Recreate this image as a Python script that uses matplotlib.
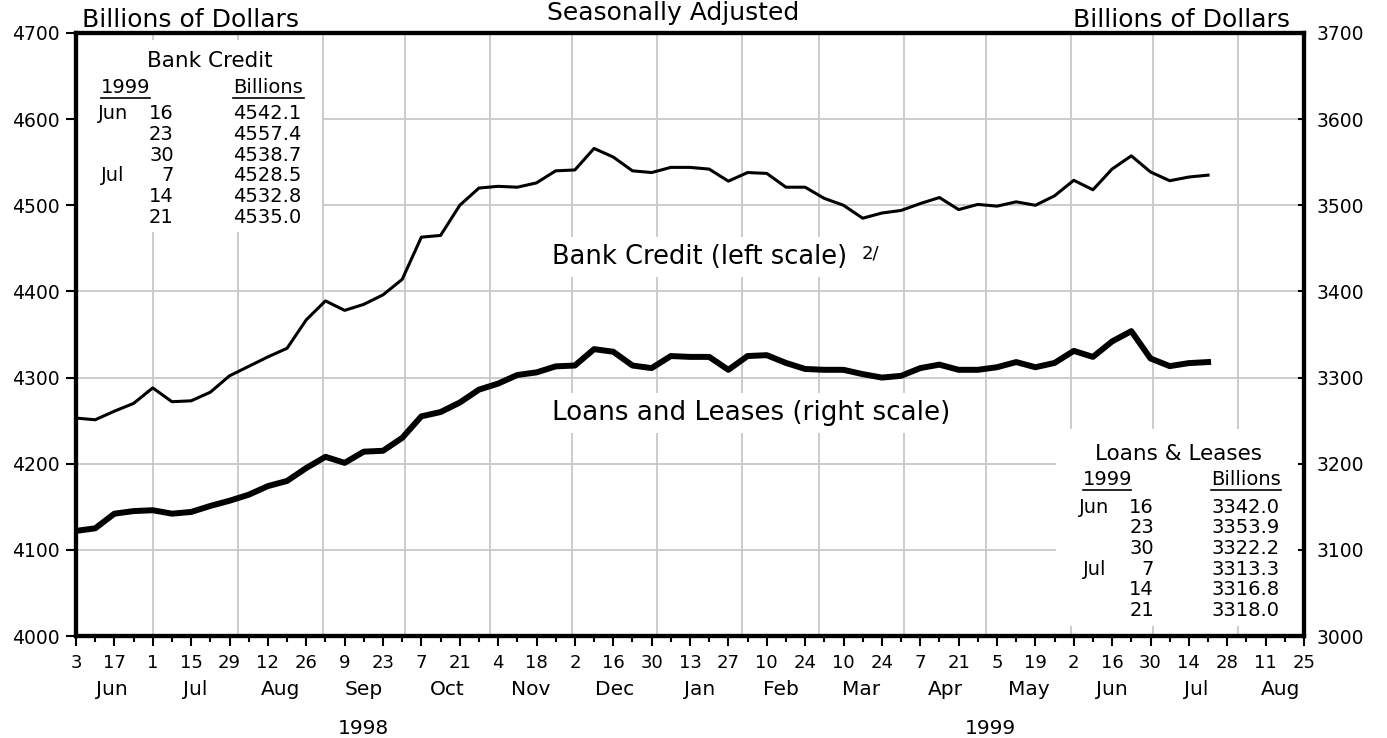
import matplotlib
matplotlib.use("Agg")
import matplotlib.pyplot as plt
import matplotlib.dates as mdates
import numpy as np
import pandas as pd
from matplotlib.patches import Rectangle

# weekly observations, Jun 3 1998 .. Jul 21 1999
week_dates = pd.date_range("1998-06-03", "1999-07-21", freq="7D")

bank_credit = [4253, 4251, 4261, 4270, 4288, 4272, 4273, 4283, 4302, 4313,
               4324, 4334, 4367, 4389, 4378, 4385, 4396, 4414, 4463, 4465,
               4500, 4520, 4522, 4521, 4526, 4540, 4541, 4566, 4556, 4540,
               4538, 4544, 4544, 4542, 4528, 4538, 4537, 4521, 4521, 4508,
               4500, 4485, 4491, 4494, 4502, 4509, 4495, 4501, 4499, 4504,
               4500, 4511, 4529, 4518, 4542.1, 4557.4, 4538.7, 4528.5, 4532.8, 4535.0]

loans_leases = [3122, 3125, 3142, 3145, 3146, 3142, 3144, 3151, 3157, 3164,
                3174, 3180, 3195, 3208, 3201, 3214, 3215, 3230, 3255, 3260,
                3271, 3286, 3293, 3303, 3306, 3313, 3314, 3333, 3330, 3314,
                3311, 3325, 3324, 3324, 3309, 3325, 3326, 3317, 3310, 3309,
                3309, 3304, 3300, 3302, 3311, 3315, 3309, 3309, 3312, 3318,
                3312, 3317, 3331, 3324, 3342.0, 3353.9, 3322.2, 3313.3, 3316.8, 3318.0]

month_names = ["Jun", "Jul", "Aug", "Sep", "Oct", "Nov", "Dec",
               "Jan", "Feb", "Mar", "Apr", "May", "Jun", "Jul", "Aug"]
year_labels = ["1998", "1999"]
table_months = ["Jun", "", "", "Jul", "", ""]
table_days = ["16", "23", "30", "7", "14", "21"]

plt.rcParams["font.family"] = "DejaVu Sans"

fig = plt.figure(figsize=(13.87, 7.38), dpi=100)
ax = fig.add_axes([76 / 1387, 1 - 636 / 738, 1228 / 1387, 603 / 738])
ax2 = ax.twinx()

x_start = mdates.date2num(pd.Timestamp("1998-06-03"))
x_end = mdates.date2num(pd.Timestamp("1999-08-25"))
dates = mdates.date2num(week_dates)

# grid: month starts and every 100 on the left scale
month_starts = pd.date_range("1998-06-01", periods=len(month_names) + 1, freq="MS")
for d in month_starts:
    dn = mdates.date2num(d)
    if x_start < dn < x_end:
        ax.axvline(dn, color="#c8c8c8", lw=1.3, zorder=0.5)
for v in range(4100, 4700, 100):
    ax.axhline(v, color="#c8c8c8", lw=1.3, zorder=0.5)

# white boxes behind the tables
ax.add_patch(Rectangle((0, 0.67), 0.2, 0.318, transform=ax.transAxes,
                       facecolor="white", edgecolor="none", zorder=1))
ax.add_patch(Rectangle((0.798, 0.0166), 0.202, 0.327, transform=ax.transAxes,
                       facecolor="white", edgecolor="none", zorder=1))

ax.plot(dates, bank_credit, color="black", lw=2.2, zorder=3)
ax2.plot(dates, loans_leases, color="black", lw=4.3, zorder=3)

ax.set_xlim(x_start, x_end)
ax.set_ylim(4000, 4700)
ax2.set_ylim(3000, 3700)
ax.set_yticks(range(4000, 4701, 100))
ax2.set_yticks(range(3000, 3701, 100))

major = pd.date_range("1998-06-03", "1999-08-25", freq="14D")
minor = pd.date_range("1998-06-03", "1999-08-25", freq="7D")
ax.set_xticks(mdates.date2num(major))
ax.set_xticklabels([str(d.day) for d in major])
ax.set_xticks(mdates.date2num(minor), minor=True)

ax.tick_params(axis="x", which="major", direction="out", length=7, width=1.5,
               labelsize=13, pad=6)
ax.tick_params(axis="x", which="minor", direction="out", length=4.5, width=1.5)
ax.tick_params(axis="y", direction="out", length=7, width=1.5, labelsize=13.5, pad=5)
ax2.tick_params(axis="y", direction="in", length=4, width=1.5, labelsize=13.5, pad=9)

for a in (ax, ax2):
    for sp in a.spines.values():
        sp.set_linewidth(3)

# month and year labels under the axis
xt = ax.get_xaxis_transform()
for i, name in enumerate(month_names):
    mid = (mdates.date2num(month_starts[i]) + mdates.date2num(month_starts[i + 1])) / 2
    ax.text(mid, -0.088, name, transform=xt, ha="center", va="center", fontsize=14.5)
year_spans = [(pd.Timestamp("1998-06-01"), pd.Timestamp("1999-01-01")),
              (pd.Timestamp("1999-01-01"), pd.Timestamp("1999-09-01"))]
for label, (a0, a1) in zip(year_labels, year_spans):
    mid = (mdates.date2num(a0) + mdates.date2num(a1)) / 2
    ax.text(mid, -0.153, label, transform=xt, ha="center", va="center", fontsize=14.5)

# headers
fig.text(82 / 1387, 1 - 27 / 738, "Billions of Dollars", fontsize=18, va="baseline")
fig.text(1290 / 1387, 1 - 27 / 738, "Billions of Dollars", fontsize=18,
         va="baseline", ha="right")
fig.text(673 / 1387, 1 - 20 / 738, "Seasonally Adjusted", fontsize=18,
         va="baseline", ha="center")

# series labels
box = dict(facecolor="white", edgecolor="none", pad=5)
ax.text(0.3876, 0.617, "Bank Credit (left scale)", transform=ax.transAxes,
        fontsize=18.5, va="baseline", bbox=box, zorder=2)
ax.text(0.640, 0.6485, "2/", transform=ax.transAxes, fontsize=13, va="top", zorder=2)
ax.text(0.3876, 0.358, "Loans and Leases (right scale)", transform=ax.transAxes,
        fontsize=18.8, va="baseline", bbox=box, zorder=2)


def draw_table(title, title_x, title_y, year_x, bill_x, head_y, under_w,
               month_x, day_x, row_y, values):
    kw = dict(transform=ax.transAxes, zorder=4, va="baseline")
    ax.text(title_x, title_y, title, fontsize=15.5, ha="center", **kw)
    ax.text(year_x, head_y, "1999", fontsize=14, **kw)
    ax.text(bill_x, head_y, "Billions", fontsize=14, **kw)
    uy = head_y - 0.0085
    ax.plot([year_x, year_x + under_w[0]], [uy, uy], color="black", lw=1.2,
            transform=ax.transAxes, zorder=4)
    ax.plot([bill_x, bill_x + under_w[1]], [uy, uy], color="black", lw=1.2,
            transform=ax.transAxes, zorder=4)
    step = 20.7 / 603
    for i, (m, d, v) in enumerate(zip(table_months, table_days, values)):
        y = row_y - i * step
        if m:
            ax.text(month_x[0] if m == "Jun" else month_x[1], y, m, fontsize=14, **kw)
        ax.text(day_x, y, d, fontsize=14, ha="right", **kw)
        ax.text(bill_x, y, f"{v:.1f}", fontsize=14, **kw)


draw_table("Bank Credit", 0.1091, 0.9441, 0.0204, 0.1279, 0.901, (0.040, 0.058),
           (0.0182, 0.0204), 0.0796, 0.8569, bank_credit[-6:])
draw_table("Loans & Leases", 0.8982, 0.2919, 0.8198, 0.9243, 0.2504, (0.039, 0.057),
           (0.817, 0.8203), 0.8779, 0.2045, loans_leases[-6:])

fig.savefig("out.png", dpi=100)
